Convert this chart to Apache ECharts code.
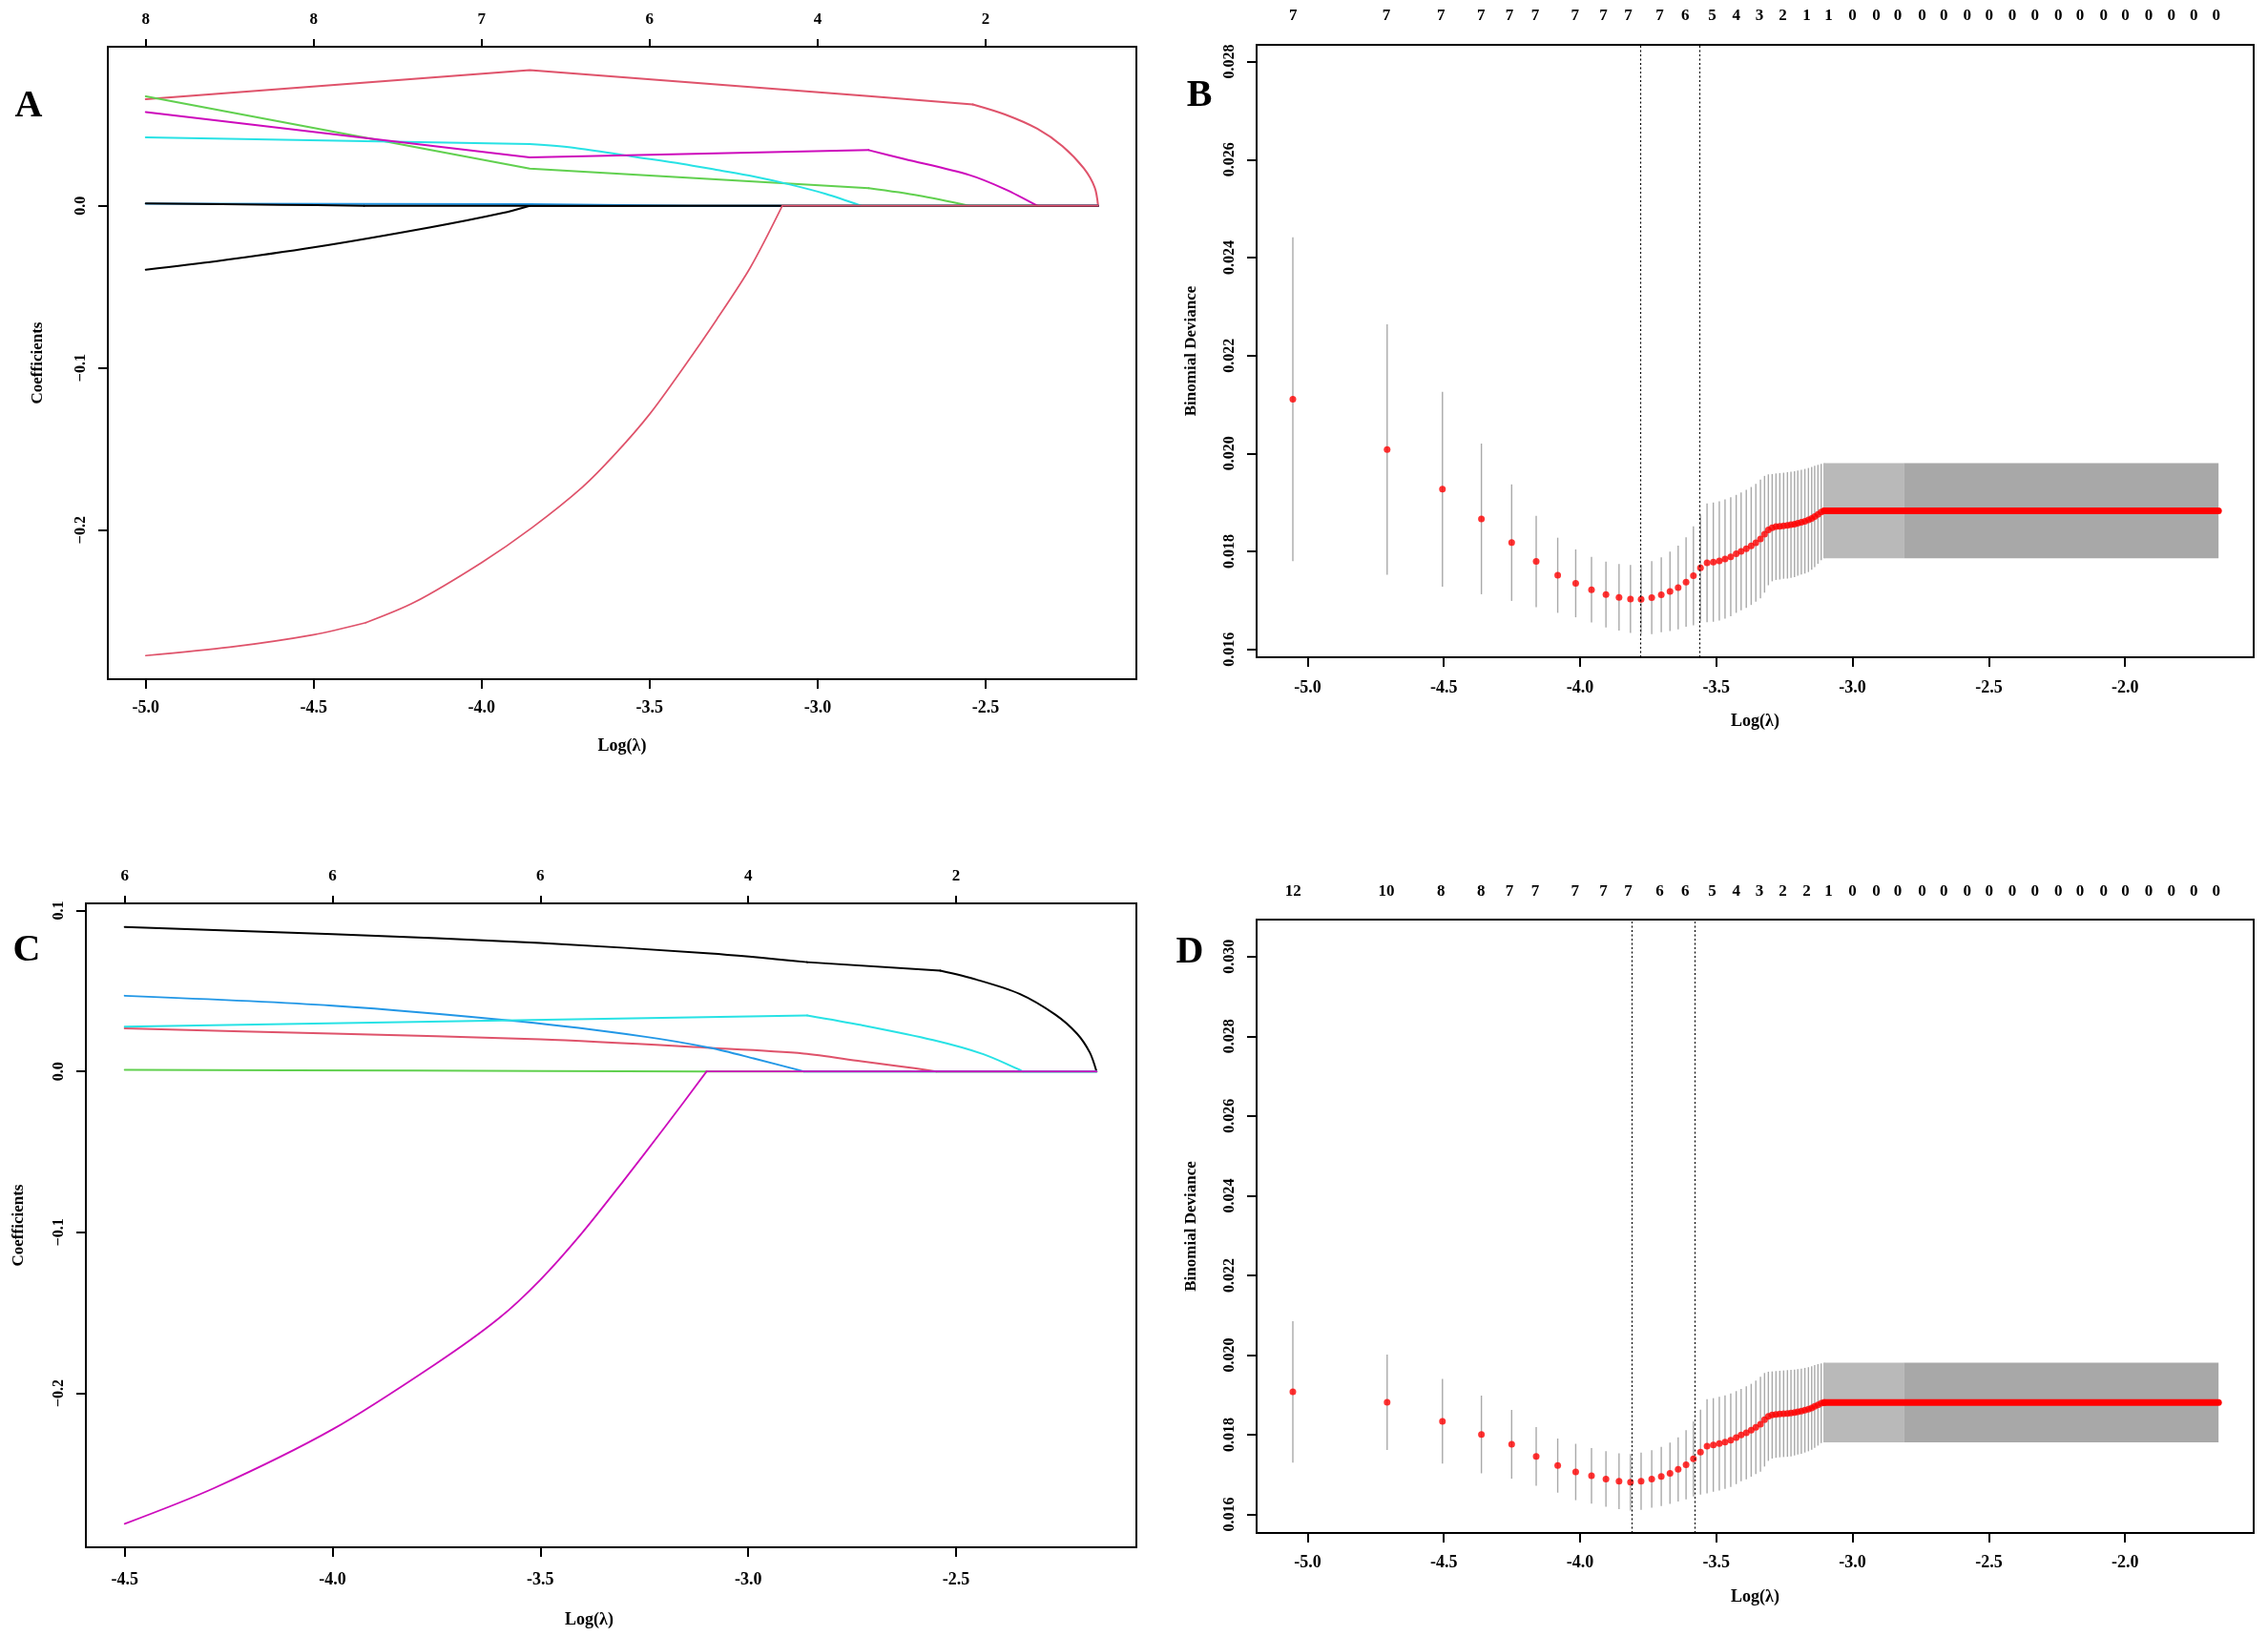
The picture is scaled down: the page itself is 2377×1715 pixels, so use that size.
<!DOCTYPE html>
<html>
<head>
<meta charset="utf-8">
<script src="https://cdn.jsdelivr.net/npm/echarts@6/dist/echarts.min.js"></script>
<style>
html,body{margin:0;padding:0;background:#fff;}
#c{width:2377px;height:1715px;}
</style>
</head>
<body>
<div id="c"></div>
<script>
// ================= Panel A : coefficient paths =================
const aTicks = [-5.0, -4.5, -4.0, -3.5, -3.0, -2.5];
const aTopCounts = ['8', '8', '7', '6', '4', '2'];
const aYTicks = [-0.2, -0.1, 0.0];
const aBlack1 = [[-5.0,-0.0394],[-4.793,-0.0343],[-4.5,-0.0257],[-4.152,-0.0133],[-3.938,-0.0045],[-3.857,0],[-2.165,0]];
const aPinkTop = [[-5.0,0.0657],[-3.857,0.0837],[-2.848,0.0676],[-2.538,0.0625],[-2.442,0.0563],[-2.346,0.0475],[-2.271,0.0367],[-2.207,0.0229],[-2.175,0.0112],[-2.165,0]];
const aGreen = [[-5.0,0.0675],[-3.857,0.0229],[-2.848,0.0108],[-2.699,0.0063],[-2.549,0],[-2.165,0]];
const aBlue = [[-5.0,0.0013],[-3.857,0.001],[-3.38,0],[-2.165,0]];
const aCyan = [[-5.0,0.0422],[-3.857,0.038],[-3.724,0.0357],[-3.553,0.0304],[-3.404,0.0259],[-3.297,0.022],[-3.190,0.018],[-3.083,0.0131],[-2.976,0.0073],[-2.870,0],[-2.165,0]];
const aMagenta = [[-5.0,0.0578],[-3.857,0.0298],[-2.848,0.0343],[-2.741,0.0288],[-2.549,0.019],[-2.442,0.0102],[-2.346,0],[-2.165,0]];
const aBlack2 = [[-5.0,0.0014],[-4.6,0.0006],[-4.35,0],[-2.165,0]];
const aPinkLow = [[-5.0,-0.2774],[-4.75,-0.2722],[-4.5,-0.2645],[-4.345,-0.2571],[-4.2,-0.2445],[-4.0,-0.22],[-3.85,-0.1985],[-3.7,-0.1735],[-3.6,-0.1525],[-3.5,-0.1285],[-3.4,-0.1],[-3.3,-0.07],[-3.2,-0.038],[-3.105,0],[-2.165,0]];

// ================= Panel C : coefficient paths =================
const cTicks = [-4.5, -4.0, -3.5, -3.0, -2.5];
const cTopCounts = ['6', '6', '6', '4', '2'];
const cYTicks = [-0.2, -0.1, 0.0, 0.1];
const cBlack = [[-4.5,0.0897],[-4.0,0.0853],[-3.5,0.0798],[-3.091,0.0733],[-2.858,0.0679],[-2.538,0.0626],[-2.451,0.0571],[-2.347,0.0482],[-2.261,0.0353],[-2.209,0.0235],[-2.178,0.0117],[-2.162,0]];
const cPink = [[-4.5,0.0267],[-4.0,0.0235],[-3.5,0.0199],[-3.091,0.0146],[-2.866,0.0111],[-2.728,0.0063],[-2.641,0.0034],[-2.547,0],[-2.162,0]];
const cGreen = [[-4.5,0.001],[-3.8,0.0005],[-3.1,0],[-2.162,0]];
const cBlue = [[-4.5,0.047],[-4.0,0.0409],[-3.549,0.031],[-3.247,0.0215],[-3.091,0.0146],[-2.987,0.0081],[-2.866,0],[-2.162,0]];
const cCyan = [[-4.5,0.0278],[-2.858,0.0348],[-2.728,0.0288],[-2.555,0.0195],[-2.434,0.0107],[-2.339,0],[-2.162,0]];
const cMagenta = [[-4.5,-0.2812],[-4.284,-0.2589],[-4.0,-0.2225],[-3.75,-0.1815],[-3.6,-0.1535],[-3.5,-0.1295],[-3.4,-0.1005],[-3.3,-0.068],[-3.2,-0.0345],[-3.1,0],[-2.162,0]];

// ================= Panels B & D : cross-validation curves =================
const cvTicks = [-5.0, -4.5, -4.0, -3.5, -3.0, -2.5, -2.0];
const cvLogLambda = [-5.054,-4.708,-4.505,-4.362,-4.251,-4.161,-4.082,-4.016,-3.958,-3.905,-3.857,-3.815,-3.776,-3.737,-3.702,-3.670,-3.640,-3.611,-3.584,-3.558,-3.534,-3.511,-3.489,-3.468,-3.447,-3.427,-3.409,-3.390,-3.372,-3.355,-3.338,-3.323,-3.309,-3.295,-3.281,-3.267,-3.253,-3.239,-3.226,-3.213,-3.201,-3.188,-3.175,-3.162,-3.150,-3.139,-3.127,-3.115,-3.104];
// flat tail of the path: start, where bars merge into a solid block, end
const cvTailX = [-3.104, -2.812, -1.657];
const cvTopX = [-5.053,-4.711,-4.510,-4.363,-4.259,-4.165,-4.018,-3.914,-3.823,-3.708,-3.614,-3.515,-3.427,-3.342,-3.256,-3.168,-3.088,-3.000,-2.913,-2.834,-2.745,-2.665,-2.579,-2.499,-2.414,-2.331,-2.245,-2.165,-2.079,-1.999,-1.913,-1.830,-1.748,-1.665];

const bYTicks = [0.016, 0.018, 0.020, 0.022, 0.024, 0.026, 0.028];
const bMean = [0.021108,0.020079,0.019270,0.018664,0.018179,0.017794,0.017513,0.017348,0.017218,0.017120,0.017062,0.017029,0.017023,0.017056,0.017115,0.017184,0.017262,0.017373,0.017503,0.017664,0.017767,0.017781,0.017806,0.017845,0.017891,0.017950,0.018000,0.018052,0.018111,0.018175,0.018252,0.018350,0.018441,0.018485,0.018505,0.018513,0.018524,0.018532,0.018544,0.018557,0.018577,0.018596,0.018616,0.018641,0.018674,0.018713,0.018757,0.018804,0.018829];
const bSd = [0.003307,0.002557,0.001990,0.001538,0.001189,0.000932,0.000767,0.000693,0.000670,0.000670,0.000680,0.000693,0.000705,0.000744,0.000763,0.000810,0.000854,0.000913,0.001010,0.001087,0.001212,0.001217,0.001217,0.001217,0.001215,0.001204,0.001204,0.001204,0.001204,0.001204,0.001212,0.001192,0.001132,0.001095,0.001087,0.001087,0.001082,0.001087,0.001082,0.001082,0.001074,0.001068,0.001068,0.001062,0.001049,0.001035,0.001010,0.000983,0.000971];
const bTail = [0.018829, 0.000971];  // mean, sd
const bLambdaLines = [-3.776, -3.558];
const bTopCounts = ['7','7','7','7','7','7','7','7','7','7','6','5','4','3','2','1','1','0','0','0','0','0','0','0','0','0','0','0','0','0','0','0','0','0'];

const dYTicks = [0.016, 0.018, 0.020, 0.022, 0.024, 0.026, 0.028, 0.030];
const dMean = [0.019075,0.018815,0.018336,0.018007,0.017760,0.017456,0.017226,0.017065,0.016969,0.016890,0.016833,0.016809,0.016833,0.016890,0.016953,0.017034,0.017130,0.017245,0.017394,0.017564,0.017712,0.017744,0.017777,0.017815,0.017863,0.017928,0.017993,0.018048,0.018113,0.018185,0.018264,0.018376,0.018463,0.018496,0.018510,0.018520,0.018527,0.018534,0.018544,0.018558,0.018575,0.018592,0.018616,0.018640,0.018671,0.018712,0.018750,0.018791,0.018808];
const dSd = [0.001777,0.001198,0.001062,0.000975,0.000863,0.000735,0.000679,0.000707,0.000695,0.000695,0.000700,0.000709,0.000719,0.000719,0.000743,0.000767,0.000805,0.000868,0.000942,0.001066,0.001182,0.001174,0.001174,0.001174,0.001174,0.001167,0.001158,0.001167,0.001165,0.001174,0.001191,0.001174,0.001119,0.001093,0.001088,0.001086,0.001086,0.001088,0.001086,0.001078,0.001071,0.001069,0.001062,0.001055,0.001047,0.001038,0.001023,0.000999,0.000997];
const dTail = [0.018808, 0.000997];
const dLambdaLines = [-3.815, -3.584];
const dTopCounts = ['12','10','8','8','7','7','7','7','7','6','6','5','4','3','2','2','1','0','0','0','0','0','0','0','0','0','0','0','0','0','0','0','0','0'];

// ================= colours (R default palette) =================
const COL = { black:'#000000', pink:'#DF536B', green:'#61D04F', blue:'#2297E6', cyan:'#28E2E5', magenta:'#CD0BBC' };
const FONT = 'Liberation Serif';

// ================= helpers =================
function lookup(vals, labels) {
  return function (v) {
    for (let i = 0; i < vals.length; i++) if (Math.abs(vals[i] - v) < 1e-6) return labels[i];
    return '';
  };
}
function xFmt(v) { return v.toFixed(1); }
function coefYFmt(v) { return (v < -1e-9 ? '\u2212' : '') + Math.abs(v).toFixed(1); }
function devYFmt(v) { return v.toFixed(3); }

function bottomX(gi, min, max, ticks, margin, nameGap, namePad) {
  return {
    type: 'value', gridIndex: gi, position: 'bottom', min: min, max: max,
    axisLine: { show: true, onZero: false, lineStyle: { color: '#000', width: 2 } },
    axisTick: { show: true, length: 10, customValues: ticks, lineStyle: { color: '#000', width: 2 } },
    axisLabel: { customValues: ticks, formatter: xFmt, margin: margin, color: '#000', fontFamily: FONT, fontWeight: 'bold', fontSize: 18 },
    splitLine: { show: false },
    name: 'Log(\u03bb)', nameLocation: 'middle', nameGap: nameGap,
    nameTextStyle: { color: '#000', fontFamily: FONT, fontWeight: 'bold', fontSize: 18, padding: namePad || 0 }
  };
}
function topX(gi, min, max, vals, labels, showTick, margin) {
  return {
    type: 'value', gridIndex: gi, position: 'top', min: min, max: max,
    axisLine: { show: false, onZero: false },
    axisTick: { show: showTick, length: 8, customValues: vals, lineStyle: { color: '#000', width: 2 } },
    axisLabel: { customValues: vals, formatter: lookup(vals, labels), margin: margin, color: '#000', fontFamily: FONT, fontWeight: 'bold', fontSize: 17 },
    splitLine: { show: false }
  };
}
function leftY(gi, min, max, ticks, fmt, name, nameGap) {
  return {
    type: 'value', gridIndex: gi, min: min, max: max,
    axisLine: { show: true, onZero: false, lineStyle: { color: '#000', width: 2 } },
    axisTick: { show: true, length: 10, customValues: ticks, lineStyle: { color: '#000', width: 2 } },
    axisLabel: { customValues: ticks, formatter: fmt, rotate: 90, margin: 20, color: '#000', fontFamily: FONT, fontWeight: 'bold', fontSize: 16 },
    splitLine: { show: false },
    name: name, nameLocation: 'middle', nameRotate: 90, nameGap: nameGap,
    nameTextStyle: { color: '#000', fontFamily: FONT, fontWeight: 'bold', fontSize: 17 }
  };
}
// one coefficient path, split into pieces that are straight (knot to knot) or curved
function coefPath(data, color, xi, yi, width, pieces) {
  return pieces.map(function (pc) {
    return { type: 'line', xAxisIndex: xi, yAxisIndex: yi, data: data.slice(pc[0], pc[1] + 1),
             symbol: 'none', showSymbol: false, silent: true, z: 2,
             smooth: pc[2] ? 0.3 : false,
             lineStyle: { color: color, width: width, cap: 'round', join: 'round' } };
  });
}
function cvSeries(xi, yi, mean, sd, tail, vlines) {
  const bars = cvLogLambda.map((x, i) => [x, mean[i] - sd[i], mean[i] + sd[i]]);
  const pts = cvLogLambda.map((x, i) => [x, mean[i]]);
  const tailRects = [
    [cvTailX[0], cvTailX[1], tail[0] - tail[1], tail[0] + tail[1], 0],
    [cvTailX[1], cvTailX[2], tail[0] - tail[1], tail[0] + tail[1], 1]
  ];
  return [
    { type: 'custom', xAxisIndex: xi, yAxisIndex: yi, data: bars, silent: true, z: 1,
      encode: { x: 0, y: [1, 2] },
      renderItem: function (p, api) {
        const a = api.coord([api.value(0), api.value(1)]);
        const b = api.coord([api.value(0), api.value(2)]);
        return { type: 'line', shape: { x1: a[0], y1: a[1], x2: b[0], y2: b[1] },
                 style: { stroke: '#A9A9A9', lineWidth: 1.4 } };
      } },
    { type: 'custom', xAxisIndex: xi, yAxisIndex: yi, data: tailRects, silent: true, z: 1,
      encode: { x: [0, 1], y: [2, 3] },
      renderItem: function (p, api) {
        const a = api.coord([api.value(0), api.value(3)]);
        const b = api.coord([api.value(1), api.value(2)]);
        return { type: 'rect', shape: { x: a[0], y: a[1], width: b[0] - a[0], height: b[1] - a[1] },
                 style: { fill: api.value(4) === 0 ? '#B9B9B9' : '#A8A8A8' } };
      } },
    { type: 'line', xAxisIndex: xi, yAxisIndex: yi, silent: true, z: 3, symbol: 'none',
      data: [[cvTailX[0], tail[0]], [cvTailX[2], tail[0]]],
      lineStyle: { color: '#FF0000', width: 7, cap: 'round' } },
    { type: 'scatter', xAxisIndex: xi, yAxisIndex: yi, silent: true, z: 4, data: pts,
      symbol: 'circle', symbolSize: 7, itemStyle: { color: '#FF0000' },
      markLine: { silent: true, symbol: ['none', 'none'], label: { show: false },
                  lineStyle: { color: '#000', width: 1.2, type: [2, 2.5] },
                  data: vlines.map(v => ({ xAxis: v })) } }
  ];
}

// ================= chart =================
const chart = echarts.init(document.getElementById('c'), null, { renderer: 'canvas' });
const gridStyle = { show: true, borderColor: '#000', borderWidth: 2, backgroundColor: 'transparent', containLabel: false };
const option = {
  animation: false,
  backgroundColor: '#fff',
  textStyle: { fontFamily: FONT },
  grid: [
    Object.assign({ left: 113, top: 49, width: 1078, height: 663 }, gridStyle),
    Object.assign({ left: 1317, top: 47, width: 1045, height: 642 }, gridStyle),
    Object.assign({ left: 90, top: 947, width: 1101, height: 675 }, gridStyle),
    Object.assign({ left: 1317, top: 964, width: 1045, height: 643 }, gridStyle)
  ],
  xAxis: [
    bottomX(0, -5.113, -2.051, aTicks, 21, 61),
    topX(0, -5.113, -2.051, aTicks, aTopCounts, true, 20),
    bottomX(1, -5.187, -1.528, cvTicks, 23, 58),
    topX(1, -5.187, -1.528, cvTopX, bTopCounts, false, 22),
    bottomX(2, -4.5935, -2.066, cTicks, 25, 67, [0, 46, 0, 0]),
    topX(2, -4.5935, -2.066, cTicks, cTopCounts, true, 20),
    bottomX(3, -5.187, -1.528, cvTicks, 22, 58),
    topX(3, -5.187, -1.528, cvTopX, dTopCounts, false, 21)
  ],
  yAxis: [
    leftY(0, -0.29196, 0.09804, aYTicks, coefYFmt, 'Coefficients', 65),
    leftY(1, 0.015839, 0.028342, bYTicks, devYFmt, 'Binomial Deviance', 60),
    leftY(2, -0.29579, 0.10444, cYTicks, coefYFmt, 'Coefficients', 62),
    leftY(3, 0.015535, 0.030927, dYTicks, devYFmt, 'Binomial Deviance', 60)
  ],
  graphic: [
    { type: 'text', x: 30, y: 112, style: { text: 'A', font: 'bold 40px "Liberation Serif"', fill: '#000', align: 'center', verticalAlign: 'middle' } },
    { type: 'text', x: 1257, y: 101, style: { text: 'B', font: 'bold 40px "Liberation Serif"', fill: '#000', align: 'center', verticalAlign: 'middle' } },
    { type: 'text', x: 28, y: 997, style: { text: 'C', font: 'bold 40px "Liberation Serif"', fill: '#000', align: 'center', verticalAlign: 'middle' } },
    { type: 'text', x: 1247, y: 999, style: { text: 'D', font: 'bold 40px "Liberation Serif"', fill: '#000', align: 'center', verticalAlign: 'middle' } }
  ],
  series: [].concat(
    coefPath(aBlack1, COL.black, 0, 0, 2, [[0, 5, true], [5, 6, false]]),
    coefPath(aPinkTop, COL.pink, 0, 0, 2, [[0, 3, false], [3, 9, true]]),
    coefPath(aGreen, COL.green, 0, 0, 2, [[0, 2, false], [2, 4, true], [4, 5, false]]),
    coefPath(aBlue, COL.blue, 0, 0, 2, [[0, 3, false]]),
    coefPath(aCyan, COL.cyan, 0, 0, 2, [[0, 1, false], [1, 9, true], [9, 10, false]]),
    coefPath(aMagenta, COL.magenta, 0, 0, 2, [[0, 2, false], [2, 6, true], [6, 7, false]]),
    coefPath(aBlack2, COL.black, 0, 0, 2, [[0, 2, true], [2, 3, false]]),
    coefPath(aPinkLow, COL.pink, 0, 0, 1.7, [[0, 3, true], [3, 13, true], [13, 14, false]]),

    coefPath(cBlack, COL.black, 4, 2, 2, [[0, 4, true], [4, 5, false], [5, 11, true]]),
    coefPath(cPink, COL.pink, 4, 2, 2, [[0, 7, true], [7, 8, false]]),
    coefPath(cGreen, COL.green, 4, 2, 2, [[0, 2, true], [2, 3, false]]),
    coefPath(cBlue, COL.blue, 4, 2, 2, [[0, 6, true], [6, 7, false]]),
    coefPath(cCyan, COL.cyan, 4, 2, 2, [[0, 1, false], [1, 5, true], [5, 6, false]]),
    coefPath(cMagenta, COL.magenta, 4, 2, 1.8, [[0, 9, true], [9, 10, false]]),

    cvSeries(2, 1, bMean, bSd, bTail, bLambdaLines),
    cvSeries(6, 3, dMean, dSd, dTail, dLambdaLines)
  )
};
chart.setOption(option);
</script>
</body>
</html>
